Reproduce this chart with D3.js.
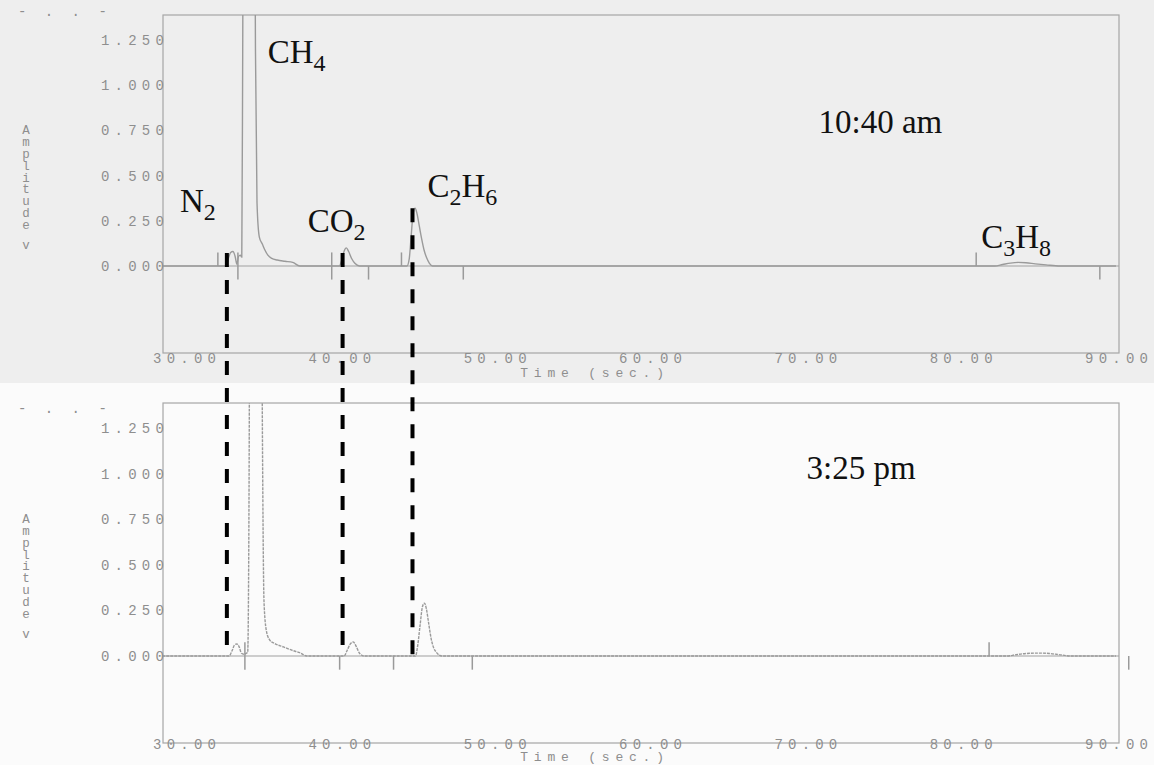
<!DOCTYPE html>
<html>
<head>
<meta charset="utf-8">
<script src="https://cdn.jsdelivr.net/npm/d3@7"></script>
<style>
  body { margin: 0; background: #fbfbfb; }
  svg { display: block; }
  .tick text { font-family: "Liberation Mono", "DejaVu Sans Mono", monospace; font-size: 14px; fill: #8e8e8e; letter-spacing: 5.2px; }
  .mono { font-family: "Liberation Mono", "DejaVu Sans Mono", monospace; font-size: 14px; fill: #8e8e8e; }
  .ttl { font-family: "Liberation Mono", "DejaVu Sans Mono", monospace; font-size: 13px; fill: #8e8e8e; letter-spacing: 5.8px; }
  .ylet { font-family: "Liberation Mono", "DejaVu Sans Mono", monospace; font-size: 12.5px; fill: #8e8e8e; }
  .lbl { font-family: "Liberation Serif", "Times New Roman", serif; fill: #111; }
</style>
</head>
<body>
<svg width="1154" height="765"></svg>
<script>
// 軸の目盛
const timeTicks = [30, 40, 50, 60, 70, 80, 90];
const ampTicks = [0, 0.25, 0.5, 0.75, 1.0, 1.25];

// 10:40 am のクロマトグラム (時間 s, 振幅 V)
const amTime = [28.6, 32.7, 32.85, 33.0, 33.15, 33.3, 33.4, 33.5, 33.62, 33.72, 33.78, 33.85, 34.5, 34.6, 34.7, 34.85, 35.05, 35.2, 35.4, 35.65, 36.0, 36.5, 37.0, 37.45, 40.0, 40.15, 40.3, 40.45, 40.6, 40.8, 41.0, 41.3, 44.35, 44.5, 44.62, 44.75, 44.88, 45.0, 45.15, 45.3, 45.45, 45.62, 45.8, 46.0, 82.2, 82.7, 83.2, 83.7, 84.2, 84.8, 85.5, 86.4, 90.0];
const amAmp = [0, 0, 0.04, 0.075, 0.08, 0.05, 0.01, 0.05, 0.06, 0.05, 1.2, 3, 3, 1.2, 0.35, 0.16, 0.12, 0.09, 0.06, 0.042, 0.033, 0.026, 0.02, 0, 0, 0.03, 0.08, 0.1, 0.08, 0.04, 0.015, 0, 0, 0.04, 0.16, 0.29, 0.32, 0.29, 0.22, 0.15, 0.09, 0.045, 0.015, 0, 0, 0.008, 0.016, 0.02, 0.018, 0.012, 0.006, 0, 0];

// 3:25 pm のクロマトグラム
const pmTime = [28.6, 32.9, 33.1, 33.25, 33.4, 33.55, 33.7, 33.85, 34.1, 34.2, 34.25, 34.6, 34.95, 35.05, 35.15, 35.3, 35.5, 35.8, 36.4, 37.0, 37.45, 37.9, 40.3, 40.5, 40.7, 40.9, 41.1, 41.3, 41.6, 44.9, 45.05, 45.2, 45.35, 45.48, 45.6, 45.75, 45.9, 46.05, 46.25, 46.6, 83.0, 83.5, 84.0, 84.5, 85.1, 85.7, 86.3, 87.1, 90.0];
const pmAmp = [0, 0, 0.03, 0.06, 0.066, 0.05, 0.015, 0.01, 0.02, 1.2, 3, 3, 3, 1.2, 0.3, 0.14, 0.09, 0.07, 0.05, 0.03, 0.018, 0, 0, 0.03, 0.065, 0.077, 0.05, 0.015, 0, 0, 0.06, 0.17, 0.27, 0.29, 0.26, 0.18, 0.1, 0.05, 0.02, 0, 0, 0.006, 0.012, 0.015, 0.016, 0.014, 0.008, 0, 0];

// 積分マーク（ベースライン上の縦棒）
const amMarkTime = [32.18, 33.47, 39.51, 41.88, 44.0, 47.98, 81.0, 88.96];
const amMarkType = ["up", "cross", "cross", "down", "up", "down", "up", "down"];
const pmMarkTime = [33.92, 40.02, 43.49, 48.56, 81.83, 90.82];
const pmMarkType = ["cross", "down", "down", "down", "up", "down"];

// ピーク名と位置
const peakNames = ["N2", "CH4", "CO2", "C2H6", "C3H8"];
const peakLabelTime = [29.74, 35.39, 37.96, 45.67, 81.32];
const peakLabelAmp = [0.299, 1.123, 0.188, 0.382, 0.1];

// 破線（両図をつなぐ）
const guideTime = [32.76, 40.21, 44.71];
const guideAmp = [0.072, 0.072, 0.32];

// 時刻ラベル
const clockLabels = ["10:40 am", "3:25 pm"];
const clockTime = [70.85, 70.08];
const clockAmp = [0.736, 0.97];

const svg = d3.select("svg");

// 背景（上はスキャンのグレー）
svg.append("rect").attr("x", 0).attr("y", 0).attr("width", 1154).attr("height", 383).attr("fill", "#eeeeee");
svg.append("rect").attr("x", 0).attr("y", 383).attr("width", 1154).attr("height", 382).attr("fill", "#fbfbfb");

const x = d3.scaleLinear().domain([30, 90]).range([184, 1116]);
const yTop = d3.scaleLinear().domain([0, 1.25]).range([266, 40]);
const yBot = d3.scaleLinear().domain([0, 1.25]).range([656, 428]);

function drawPanel(id, y, top, bottom, times, amps, markTimes, markTypes, dashed, axisPad, timeBase, headerY) {
  const g = svg.append("g");
  const left = 163, right = 1119;

  g.append("clipPath").attr("id", id)
    .append("rect").attr("x", left).attr("y", top).attr("width", right - left).attr("height", bottom - top);

  // 枠
  g.append("rect")
    .attr("x", left).attr("y", top).attr("width", right - left).attr("height", bottom - top)
    .attr("fill", "none").attr("stroke", "#a6a6a6").attr("stroke-width", 1.2);

  // ゼロライン
  g.append("line")
    .attr("x1", left).attr("x2", right).attr("y1", y(0)).attr("y2", y(0))
    .attr("stroke", "#a0a0a0").attr("stroke-width", 1.2);

  // トレース
  const line = d3.line()
    .x(d => x(d[0]))
    .y(d => y(d[1]))
    .curve(d3.curveMonotoneX);

  g.append("path")
    .datum(d3.zip(times, amps))
    .attr("clip-path", `url(#${id})`)
    .attr("d", line)
    .attr("fill", "none")
    .attr("stroke", "#9a9a9a")
    .attr("stroke-width", 1.4)
    .attr("stroke-dasharray", dashed ? "3,1" : null);

  // 積分マーク
  g.selectAll(".mark")
    .data(d3.zip(markTimes, markTypes))
    .enter()
    .append("line")
    .attr("x1", d => x(d[0])).attr("x2", d => x(d[0]))
    .attr("y1", d => d[1] === "down" ? y(0) : y(0.075))
    .attr("y2", d => d[1] === "up" ? y(0) : y(-0.075))
    .attr("stroke", "#9a9a9a")
    .attr("stroke-width", 1.5);

  // Y軸
  const yAxis = g.append("g")
    .attr("transform", `translate(${left},0)`)
    .call(d3.axisLeft(y).tickValues(ampTicks).tickSize(0).tickPadding(-6).tickFormat(d3.format(".3f")));
  yAxis.select(".domain").remove();

  // X軸
  const xAxis = g.append("g")
    .attr("transform", `translate(0,${bottom})`)
    .call(d3.axisBottom(x).tickValues(timeTicks).tickSize(0).tickPadding(axisPad).tickFormat(d3.format(".2f")));
  xAxis.select(".domain").remove();
  xAxis.selectAll("text").attr("dx", 2.6);

  g.append("text")
    .attr("class", "ttl")
    .attr("x", 595).attr("y", timeBase)
    .attr("text-anchor", "middle")
    .text("Time (sec.)");

  // 縦書きの軸名
  const letters = "Amplitude".split("");
  g.selectAll(".ylab")
    .data(letters)
    .enter()
    .append("text")
    .attr("class", "ylet")
    .attr("x", 26)
    .attr("y", (d, i) => y(0.75) + 4 + i * 11.8)
    .attr("text-anchor", "middle")
    .text(d => d);
  g.append("text")
    .attr("class", "ylet")
    .attr("x", 26)
    .attr("y", y(0.75) + 4 + 115)
    .attr("text-anchor", "middle")
    .text("v");

  // ヘッダーの残り
  g.append("text")
    .attr("class", "mono")
    .attr("x", 18).attr("y", headerY)
    .style("letter-spacing", "5px")
    .attr("fill", "#aaa")
    .text("-  .  .  -");

  return g;
}

drawPanel("clipTop", yTop, 15, 353, amTime, amAmp, amMarkTime, amMarkType, false, 0, 377, 16);
drawPanel("clipBot", yBot, 403, 743, pmTime, pmAmp, pmMarkTime, pmMarkType, true, -4, 761, 413);

// ピーク名（数字は下付き）
peakNames.forEach((name, i) => {
  const t = svg.append("text")
    .attr("class", "lbl")
    .attr("x", x(peakLabelTime[i]))
    .attr("y", yTop(peakLabelAmp[i]))
    .style("font-size", "33px");
  let sub = false;
  name.split("").forEach(ch => {
    const isDigit = /[0-9]/.test(ch);
    const span = t.append("tspan").text(ch);
    if (isDigit && !sub) { span.attr("dy", 8).style("font-size", "24px"); sub = true; }
    else if (isDigit) { span.style("font-size", "24px"); }
    else if (sub) { span.attr("dy", -8); sub = false; }
  });
});

// 時刻ラベル
[yTop, yBot].forEach((y, i) => {
  svg.append("text")
    .attr("class", "lbl")
    .attr("x", x(clockTime[i]))
    .attr("y", y(clockAmp[i]))
    .style("font-size", "33px")
    .text(clockLabels[i]);
});

// 破線（上の図のピークから下の図のベースラインまで）
svg.selectAll(".guide")
  .data(d3.zip(guideTime, guideAmp))
  .enter()
  .append("line")
  .attr("x1", d => x(d[0])).attr("x2", d => x(d[0]))
  .attr("y1", d => yTop(d[1]))
  .attr("y2", yBot(0))
  .attr("stroke", "#000")
  .attr("stroke-width", 4)
  .attr("stroke-dasharray", "14,13");
</script>
</body>
</html>
